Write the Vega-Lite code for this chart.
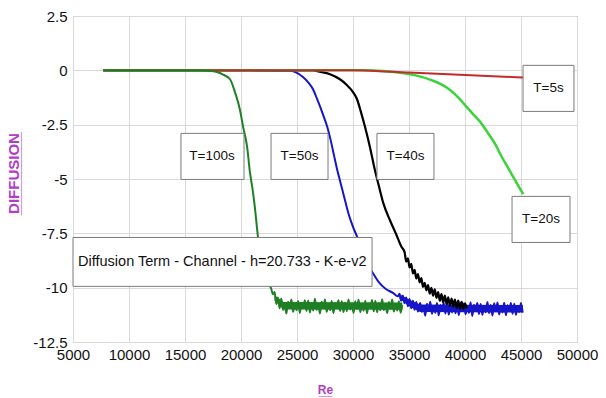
{
  "$schema": "https://vega.github.io/schema/vega-lite/v6.json",
  "width": 504,
  "height": 326,
  "autosize": {"type": "none"},
  "padding": {"left": 73, "top": 16, "right": 29, "bottom": 56},
  "background": "white",
  "config": {"view": {"stroke": "#9a9a9a", "strokeWidth": 1}, "font": "Liberation Sans"},
  "datasets": {
    "bands": [
      {"T":"50","Re":34150,"D":-10.3,"D2":-10.5},{"T":"50","Re":35000,"D":-10.55,"D2":-10.85},{"T":"50","Re":36000,"D":-10.78,"D2":-11.12},{"T":"50","Re":45150,"D":-10.8,"D2":-11.14},
      {"T":"100","Re":23000,"D":-10.35,"D2":-10.6},{"T":"100","Re":23800,"D":-10.66,"D2":-11.0},{"T":"100","Re":34400,"D":-10.68,"D2":-11.02}
    ],
    "curves": [
      {"T":"50","Re":7700,"D":0},{"T":"50","Re":15000,"D":0},{"T":"50","Re":20000,"D":0},{"T":"50","Re":24400,"D":-0.02},{"T":"50","Re":25000,"D":-0.12},{"T":"50","Re":25500,"D":-0.3},{"T":"50","Re":26000,"D":-0.55},{"T":"50","Re":26430,"D":-0.87},{"T":"50","Re":26800,"D":-1.33},{"T":"50","Re":27300,"D":-2.0},{"T":"50","Re":27700,"D":-2.6},{"T":"50","Re":28000,"D":-3.2},{"T":"50","Re":28300,"D":-3.9},{"T":"50","Re":28600,"D":-4.6},{"T":"50","Re":28850,"D":-5.1},{"T":"50","Re":29200,"D":-5.8},{"T":"50","Re":29600,"D":-6.6},{"T":"50","Re":30000,"D":-7.2},{"T":"50","Re":30400,"D":-7.7},{"T":"50","Re":30800,"D":-8.3},{"T":"50","Re":31300,"D":-8.9},{"T":"50","Re":31800,"D":-9.35},{"T":"50","Re":32300,"D":-9.75},{"T":"50","Re":32900,"D":-10.05},{"T":"50","Re":33600,"D":-10.25},{"T":"50","Re":34000,"D":-10.4},
      {"T":"50","Re":34150,"D":-10.28},{"T":"50","Re":34300,"D":-10.6},{"T":"50","Re":34450,"D":-10.36},{"T":"50","Re":34600,"D":-10.72},{"T":"50","Re":34750,"D":-10.45},{"T":"50","Re":34900,"D":-10.85},{"T":"50","Re":35050,"D":-10.52},{"T":"50","Re":35200,"D":-10.95},{"T":"50","Re":35350,"D":-10.6},{"T":"50","Re":35500,"D":-11.02},{"T":"50","Re":35650,"D":-10.66},{"T":"50","Re":35800,"D":-11.1},
      {"T":"50","Re":36000,"D":-10.7},{"T":"50","Re":36150,"D":-11.12},{"T":"50","Re":36300,"D":-10.87},{"T":"50","Re":36450,"D":-11.29},{"T":"50","Re":36600,"D":-10.74},{"T":"50","Re":36750,"D":-11.05},{"T":"50","Re":36900,"D":-10.65},{"T":"50","Re":37050,"D":-11.2},{"T":"50","Re":37200,"D":-10.9},{"T":"50","Re":37350,"D":-11.15},{"T":"50","Re":37500,"D":-10.7},{"T":"50","Re":37650,"D":-11.27},{"T":"50","Re":37800,"D":-10.8},{"T":"50","Re":37950,"D":-11.02},{"T":"50","Re":38100,"D":-10.7},{"T":"50","Re":38250,"D":-11.19},{"T":"50","Re":38400,"D":-10.72},{"T":"50","Re":38550,"D":-11.24},{"T":"50","Re":38700,"D":-10.82},{"T":"50","Re":38850,"D":-11.14},
      {"T":"50","Re":39000,"D":-10.64},{"T":"50","Re":39150,"D":-11.18},{"T":"50","Re":39300,"D":-10.78},{"T":"50","Re":39450,"D":-11.26},{"T":"50","Re":39600,"D":-10.69},{"T":"50","Re":39750,"D":-11.08},{"T":"50","Re":39900,"D":-10.73},{"T":"50","Re":40050,"D":-11.22},{"T":"50","Re":40200,"D":-10.86},{"T":"50","Re":40350,"D":-11.16},{"T":"50","Re":40500,"D":-10.67},{"T":"50","Re":40650,"D":-11.3},{"T":"50","Re":40800,"D":-10.79},{"T":"50","Re":40950,"D":-11.04},{"T":"50","Re":41100,"D":-10.71},{"T":"50","Re":41250,"D":-11.21},{"T":"50","Re":41400,"D":-10.75},{"T":"50","Re":41550,"D":-11.25},{"T":"50","Re":41700,"D":-10.84},{"T":"50","Re":41850,"D":-11.13},
      {"T":"50","Re":42000,"D":-10.66},{"T":"50","Re":42150,"D":-11.17},{"T":"50","Re":42300,"D":-10.8},{"T":"50","Re":42450,"D":-11.28},{"T":"50","Re":42600,"D":-10.72},{"T":"50","Re":42750,"D":-11.06},{"T":"50","Re":42900,"D":-10.68},{"T":"50","Re":43050,"D":-11.23},{"T":"50","Re":43200,"D":-10.88},{"T":"50","Re":43350,"D":-11.14},{"T":"50","Re":43500,"D":-10.69},{"T":"50","Re":43650,"D":-11.27},{"T":"50","Re":43800,"D":-10.81},{"T":"50","Re":43950,"D":-11.03},{"T":"50","Re":44100,"D":-10.7},{"T":"50","Re":44250,"D":-11.2},{"T":"50","Re":44400,"D":-10.74},{"T":"50","Re":44550,"D":-11.25},{"T":"50","Re":44700,"D":-10.83},{"T":"50","Re":44850,"D":-11.12},{"T":"50","Re":45000,"D":-10.7},{"T":"50","Re":45150,"D":-11.15},

      {"T":"40","Re":7700,"D":0},{"T":"40","Re":20000,"D":0},{"T":"40","Re":26400,"D":0},{"T":"40","Re":27000,"D":-0.06},{"T":"40","Re":27950,"D":-0.18},{"T":"40","Re":28800,"D":-0.4},{"T":"40","Re":29400,"D":-0.65},{"T":"40","Re":30000,"D":-1.0},{"T":"40","Re":30360,"D":-1.33},{"T":"40","Re":30700,"D":-1.9},{"T":"40","Re":31070,"D":-2.6},{"T":"40","Re":31500,"D":-3.5},{"T":"40","Re":31960,"D":-4.6},{"T":"40","Re":32300,"D":-5.3},{"T":"40","Re":32700,"D":-6.1},{"T":"40","Re":33300,"D":-6.9},{"T":"40","Re":33900,"D":-7.6},{"T":"40","Re":34300,"D":-8.1},
      {"T":"40","Re":34600,"D":-8.35},{"T":"40","Re":34750,"D":-8.8},{"T":"40","Re":34900,"D":-8.65},{"T":"40","Re":35050,"D":-9.07},{"T":"40","Re":35200,"D":-8.9},{"T":"40","Re":35350,"D":-9.34},{"T":"40","Re":35500,"D":-9.18},{"T":"40","Re":35650,"D":-9.58},{"T":"40","Re":35800,"D":-9.37},{"T":"40","Re":35950,"D":-9.76},{"T":"40","Re":36100,"D":-9.56},{"T":"40","Re":36250,"D":-9.97},{"T":"40","Re":36400,"D":-9.78},{"T":"40","Re":36550,"D":-10.12},{"T":"40","Re":36700,"D":-9.88},{"T":"40","Re":36850,"D":-10.27},{"T":"40","Re":37000,"D":-10.01},{"T":"40","Re":37150,"D":-10.37},{"T":"40","Re":37300,"D":-10.08},{"T":"40","Re":37450,"D":-10.47},{"T":"40","Re":37600,"D":-10.2},{"T":"40","Re":37750,"D":-10.6},{"T":"40","Re":37900,"D":-10.3},{"T":"40","Re":38050,"D":-10.68},{"T":"40","Re":38200,"D":-10.37},{"T":"40","Re":38350,"D":-10.76},{"T":"40","Re":38500,"D":-10.45},{"T":"40","Re":38650,"D":-10.83},{"T":"40","Re":38800,"D":-10.5},{"T":"40","Re":38950,"D":-10.86},{"T":"40","Re":39100,"D":-10.55},{"T":"40","Re":39250,"D":-10.92},{"T":"40","Re":39400,"D":-10.6},{"T":"40","Re":39550,"D":-10.96},{"T":"40","Re":39700,"D":-10.65},{"T":"40","Re":39850,"D":-10.98},{"T":"40","Re":40000,"D":-10.72},{"T":"40","Re":40150,"D":-10.95},

      {"T":"20","Re":7700,"D":0},{"T":"20","Re":20000,"D":0},{"T":"20","Re":31000,"D":0},{"T":"20","Re":32700,"D":-0.03},{"T":"20","Re":34000,"D":-0.1},{"T":"20","Re":35500,"D":-0.22},{"T":"20","Re":37000,"D":-0.45},{"T":"20","Re":38400,"D":-0.8},{"T":"20","Re":39500,"D":-1.3},{"T":"20","Re":40000,"D":-1.6},{"T":"20","Re":40700,"D":-2.0},{"T":"20","Re":41400,"D":-2.4},{"T":"20","Re":42000,"D":-2.85},{"T":"20","Re":42700,"D":-3.4},{"T":"20","Re":43300,"D":-4.0},{"T":"20","Re":43750,"D":-4.4},{"T":"20","Re":44300,"D":-4.9},{"T":"20","Re":44800,"D":-5.35},{"T":"20","Re":45200,"D":-5.7},

      {"T":"5","Re":7700,"D":0},{"T":"5","Re":20000,"D":0},{"T":"5","Re":30000,"D":0},{"T":"5","Re":32000,"D":-0.03},{"T":"5","Re":35000,"D":-0.1},{"T":"5","Re":38000,"D":-0.17},{"T":"5","Re":41000,"D":-0.24},{"T":"5","Re":43000,"D":-0.28},{"T":"5","Re":45200,"D":-0.33},

      {"T":"100","Re":7700,"D":0},{"T":"100","Re":12000,"D":0},{"T":"100","Re":16500,"D":0},{"T":"100","Re":17300,"D":-0.03},{"T":"100","Re":17860,"D":-0.08},{"T":"100","Re":18400,"D":-0.2},{"T":"100","Re":19020,"D":-0.41},{"T":"100","Re":19460,"D":-1.0},{"T":"100","Re":19900,"D":-1.8},{"T":"100","Re":20180,"D":-2.58},{"T":"100","Re":20540,"D":-3.5},{"T":"100","Re":20800,"D":-4.7},{"T":"100","Re":21070,"D":-5.6},{"T":"100","Re":21300,"D":-6.6},{"T":"100","Re":21500,"D":-7.6},{"T":"100","Re":21800,"D":-8.5},{"T":"100","Re":22100,"D":-9.2},{"T":"100","Re":22400,"D":-9.7},{"T":"100","Re":22700,"D":-10.05},
      {"T":"100","Re":22850,"D":-10.3},{"T":"100","Re":23000,"D":-10.2},{"T":"100","Re":23150,"D":-10.75},{"T":"100","Re":23300,"D":-10.45},{"T":"100","Re":23450,"D":-10.95},{"T":"100","Re":23600,"D":-10.5},
      {"T":"100","Re":23750,"D":-11.02},{"T":"100","Re":23900,"D":-10.76},{"T":"100","Re":24050,"D":-11.19},{"T":"100","Re":24200,"D":-10.65},{"T":"100","Re":24350,"D":-10.95},{"T":"100","Re":24500,"D":-10.54},{"T":"100","Re":24650,"D":-11.11},{"T":"100","Re":24800,"D":-10.8},{"T":"100","Re":24950,"D":-11.04},{"T":"100","Re":25100,"D":-10.61},{"T":"100","Re":25250,"D":-11.17},{"T":"100","Re":25400,"D":-10.7},{"T":"100","Re":25550,"D":-10.92},{"T":"100","Re":25700,"D":-10.58},{"T":"100","Re":25850,"D":-11.07},{"T":"100","Re":26000,"D":-10.59},{"T":"100","Re":26150,"D":-11.14},{"T":"100","Re":26300,"D":-10.71},{"T":"100","Re":26450,"D":-11.05},{"T":"100","Re":26600,"D":-10.51},
      {"T":"100","Re":26750,"D":-11.02},{"T":"100","Re":26900,"D":-10.76},{"T":"100","Re":27050,"D":-11.19},{"T":"100","Re":27200,"D":-10.65},{"T":"100","Re":27350,"D":-10.95},{"T":"100","Re":27500,"D":-10.54},{"T":"100","Re":27650,"D":-11.11},{"T":"100","Re":27800,"D":-10.8},{"T":"100","Re":27950,"D":-11.04},{"T":"100","Re":28100,"D":-10.61},{"T":"100","Re":28250,"D":-11.17},{"T":"100","Re":28400,"D":-10.7},{"T":"100","Re":28550,"D":-10.92},{"T":"100","Re":28700,"D":-10.58},{"T":"100","Re":28850,"D":-11.07},{"T":"100","Re":29000,"D":-10.62},{"T":"100","Re":29150,"D":-11.12},{"T":"100","Re":29300,"D":-10.69},{"T":"100","Re":29450,"D":-11.08},{"T":"100","Re":29600,"D":-10.55},
      {"T":"100","Re":29750,"D":-11.0},{"T":"100","Re":29900,"D":-10.74},{"T":"100","Re":30050,"D":-11.16},{"T":"100","Re":30200,"D":-10.63},{"T":"100","Re":30350,"D":-10.97},{"T":"100","Re":30500,"D":-10.56},{"T":"100","Re":30650,"D":-11.13},{"T":"100","Re":30800,"D":-10.78},{"T":"100","Re":30950,"D":-11.06},{"T":"100","Re":31100,"D":-10.6},{"T":"100","Re":31250,"D":-11.18},{"T":"100","Re":31400,"D":-10.72},{"T":"100","Re":31550,"D":-10.9},{"T":"100","Re":31700,"D":-10.57},{"T":"100","Re":31850,"D":-11.09},{"T":"100","Re":32000,"D":-10.6},{"T":"100","Re":32150,"D":-11.13},{"T":"100","Re":32300,"D":-10.7},{"T":"100","Re":32450,"D":-11.04},{"T":"100","Re":32600,"D":-10.53},
      {"T":"100","Re":32750,"D":-11.03},{"T":"100","Re":32900,"D":-10.75},{"T":"100","Re":33050,"D":-11.17},{"T":"100","Re":33200,"D":-10.66},{"T":"100","Re":33350,"D":-10.96},{"T":"100","Re":33500,"D":-10.55},{"T":"100","Re":33650,"D":-11.1},{"T":"100","Re":33800,"D":-10.79},{"T":"100","Re":33950,"D":-11.05},{"T":"100","Re":34100,"D":-10.62},{"T":"100","Re":34250,"D":-11.15},{"T":"100","Re":34400,"D":-10.8}
    ],
    "boxes": [
      {"Re":14640,"Re2":20270,"D":-2.9,"D2":-5.02},
      {"Re":22680,"Re2":27770,"D":-2.9,"D2":-5.02},
      {"Re":32140,"Re2":37230,"D":-2.9,"D2":-5.02},
      {"Re":45180,"Re2":49730,"D":0.23,"D2":-1.89},
      {"Re":44200,"Re2":49375,"D":-5.8,"D2":-7.92},
      {"Re":5000,"Re2":31700,"D":-7.69,"D2":-9.94}
    ],
    "labels": [
      {"txt":"T=100s","Re":17410,"D":-3.96},
      {"txt":"T=50s","Re":25220,"D":-3.96},
      {"txt":"T=40s","Re":34690,"D":-3.96},
      {"txt":"T=5s","Re":47460,"D":-0.83},
      {"txt":"T=20s","Re":46790,"D":-6.86}
    ],
    "title": [
      {"txt":"Diffusion Term - Channel - h=20.733 - K-e-v2","Re":5450,"D":-8.82}
    ]
  },
  "encoding": {
    "x": {
      "field": "Re", "type": "quantitative",
      "scale": {"domain": [5000, 50000], "nice": false, "zero": false},
      "axis": {
        "values": [5000,10000,15000,20000,25000,30000,35000,40000,45000,50000],
        "labelExpr": "'' + datum.value",
        "grid": true, "gridColor": "#d9d9d9", "domain": false, "ticks": false,
        "labelFont": "Liberation Sans", "labelFontSize": 15, "labelColor": "#111", "labelPadding": 5,
        "labelFlush": false, "labelOverlap": false,
        "title": ["Re", "__"], "titleColor": "#b03cc8", "titleFontSize": 12, "titleFontWeight": "bold",
        "titleLineHeight": 1,
        "titleFont": "Liberation Sans", "titleY": 42, "titleX": 252, "titleBaseline": "top"
      }
    },
    "y": {
      "field": "D", "type": "quantitative",
      "scale": {"domain": [-12.5, 2.5], "nice": false, "zero": false},
      "axis": {
        "values": [-12.5,-10,-7.5,-5,-2.5,0,2.5],
        "labelExpr": "'' + datum.value",
        "grid": true, "gridColor": "#d9d9d9", "domain": false, "ticks": false,
        "labelFont": "Liberation Sans", "labelFontSize": 15, "labelColor": "#111", "labelPadding": 6,
        "labelFlush": false, "labelOverlap": false,
        "title": ["DIFFUSION", "__________"], "titleColor": "#b03cc8", "titleFontSize": 15, "titleFontWeight": "bold",
        "titleLineHeight": 1,
        "titleFont": "Liberation Sans", "titleX": -52, "titleY": 157, "titleBaseline": "bottom"
      }
    }
  },
  "layer": [
    {"data": {"name": "bands"}, "transform": [{"filter": "datum.T == '50'"}], "mark": {"type": "area", "color": "#1616c8", "opacity": 1}, "encoding": {"y2": {"field": "D2"}}},
    {"data": {"name": "curves"}, "transform": [{"filter": "datum.T == '50'"}], "mark": {"type": "line", "color": "#1616c8", "strokeWidth": 2, "interpolate": "monotone"}},
    {"data": {"name": "curves"}, "transform": [{"filter": "datum.T == '40'"}], "mark": {"type": "line", "color": "#000000", "strokeWidth": 2.2, "interpolate": "monotone"}},
    {"data": {"name": "curves"}, "transform": [{"filter": "datum.T == '20'"}], "mark": {"type": "line", "color": "#3ad43a", "strokeWidth": 2.5, "interpolate": "monotone"}},
    {"data": {"name": "curves"}, "transform": [{"filter": "datum.T == '5'"}], "mark": {"type": "line", "color": "#c42a2a", "strokeWidth": 2, "interpolate": "monotone"}},
    {"data": {"name": "bands"}, "transform": [{"filter": "datum.T == '100'"}], "mark": {"type": "area", "color": "#1f7f24", "opacity": 1}, "encoding": {"y2": {"field": "D2"}}},
    {"data": {"name": "curves"}, "transform": [{"filter": "datum.T == '100'"}], "mark": {"type": "line", "color": "#1f7f24", "strokeWidth": 2, "interpolate": "monotone"}},
    {"data": {"name": "boxes"}, "mark": {"type": "rect", "fill": "white", "stroke": "#7a7a7a", "strokeWidth": 1},
     "encoding": {"x2": {"field": "Re2"}, "y2": {"field": "D2"}}},
    {"data": {"name": "labels"}, "mark": {"type": "text", "font": "Liberation Sans", "fontSize": 13.5, "color": "#111", "align": "center", "baseline": "middle"},
     "encoding": {"text": {"field": "txt"}}},
    {"data": {"name": "title"}, "mark": {"type": "text", "font": "Liberation Sans", "fontSize": 14.5, "color": "#111", "align": "left", "baseline": "middle"},
     "encoding": {"text": {"field": "txt"}}}
  ]
}
